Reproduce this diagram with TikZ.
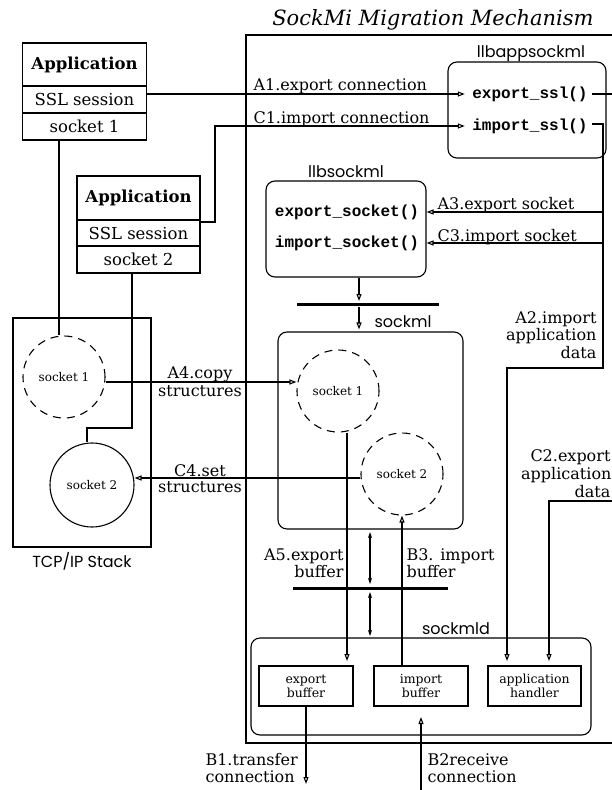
\documentclass[tikz,border=0pt]{standalone}
\usepackage{fontspec}
\setmainfont{DejaVu Serif}
\newfontfamily\codefont{Liberation Mono}
\newfontfamily\labfont{Poppins}
\usetikzlibrary{arrows.meta}
\begin{document}
\begin{tikzpicture}[x=1pt,y=-1pt,line width=1.1pt,
  lbl/.style={font=\fontsize{16}{18}\selectfont,inner sep=0pt},
  codet/.style={font=\codefont\bfseries\fontsize{16}{18}\selectfont,inner sep=0pt},
  modl/.style={font=\labfont\fontsize{16}{18}\selectfont,inner sep=0pt},
  cell/.style={draw,minimum width=124pt,inner sep=0pt,font=\fontsize{16.5}{18}\selectfont},
  headcell/.style={cell,font=\bfseries\fontsize{16.5}{18}\selectfont},
  rbox/.style={draw,rounded corners=9pt,inner sep=0pt},
  sbox/.style={draw,inner sep=0pt,minimum width=94pt,minimum height=40pt,align=center,font=\fontsize{12.5}{14}\selectfont},
  dcirc/.style={draw,circle,dash pattern=on 8pt off 6pt,minimum size=82pt,inner sep=0pt,font=\fontsize{12}{13}\selectfont},
  scirc/.style={draw,circle,minimum size=84pt,inner sep=0pt,font=\fontsize{12}{13}\selectfont},
  oarr/.style={-{Triangle[open,length=7pt,width=5pt]}},
  darr/.style={{Stealth[length=6pt,width=4pt]}-{Stealth[length=6pt,width=4pt]}},
  barline/.style={line width=3pt}
]
\useasboundingbox (0,0) rectangle (612,790);

% title and frame
\node[font=\itshape\fontsize{21}{24}\selectfont,inner sep=0pt,anchor=base] (title) at (433,25) {SockMi Migration Mechanism};
\coordinate (fr1) at (612,35);
\coordinate (fr2) at (246,35);
\coordinate (fr3) at (246,743);
\coordinate (fr4) at (612,743);
\draw (fr1) -- (fr2) -- (fr3) -- (fr4);

% applications
\node[headcell,minimum height=43pt] (app1h) at (84.5,64.5) {Application};
\node[cell,minimum height=27pt] (app1s) at (84.5,99.5) {SSL session};
\node[cell,minimum height=27pt] (app1k) at (84.5,126.5) {socket 1};
\node[headcell,minimum width=123pt,minimum height=44pt] (app2h) at (138.5,198) {Application};
\node[cell,minimum width=123pt,minimum height=26pt] (app2s) at (138.5,233) {SSL session};
\node[cell,minimum width=123pt,minimum height=27pt] (app2k) at (138.5,259.5) {socket 2};

% llbappsockml
\node[rbox,minimum width=158pt,minimum height=96pt] (llbapp) at (527,110) {};
\node[modl,anchor=base] (llbappl) at (531,57) {llbappsockml};
\node[codet] (exssl) at (530,94) {export\_ssl()};
\node[codet] (imssl) at (530,126) {import\_ssl()};

% llbsockml
\node[rbox,minimum width=160pt,minimum height=96pt] (llbs) at (346,229) {};
\node[modl,anchor=base] (llbsl) at (346,177) {llbsockml};
\node[codet] (exsock) at (347,212) {export\_socket()};
\node[codet] (imsock) at (347,243) {import\_socket()};

% sockml
\node[rbox,minimum width=185pt,minimum height=197pt] (sockml) at (370.5,430.5) {};
\node[modl,anchor=base west] (sockmll) at (374,327) {sockml};
\node[dcirc] (ms1) at (338,391) {socket 1};
\node[dcirc] (ms2) at (402,474) {socket 2};

% TCP/IP stack
\node[draw,minimum width=138pt,minimum height=229pt,inner sep=0pt] (tcp) at (82,432.5) {};
\node[modl,anchor=base] (tcpl) at (82,567) {TCP/IP Stack};
\node[dcirc] (ts1) at (64,377) {socket 1};
\node[scirc] (ts2) at (92,485) {socket 2};

% sockmld
\node[rbox,minimum width=340pt,minimum height=97pt] (smld) at (421,686.5) {};
\node[modl,anchor=base] (smldl) at (456,634) {sockmld};
\node[sbox] (ebuf) at (306,686) {export\\buffer};
\node[sbox] (ibuf) at (421,686) {import\\buffer};
\node[sbox,minimum width=93pt] (ahand) at (534.5,686) {application\\handler};

% A1 / C1
\node[lbl,anchor=base west] (a1l) at (253,90) {A1.export connection};
\node[lbl,anchor=base west] (c1l) at (253,123) {C1.import connection};
\draw[oarr] (app1s.east |- exssl) -- ([xshift=-7pt]exssl.west);
\coordinate (c1a) at (215,222);
\draw[oarr] (app2s.east |- c1a) -- (c1a) -- (c1a |- imssl) -- ([xshift=-7pt]imssl.west);

% export_ssl to right edge
\draw[shorten <=4pt] (exssl.east) -- (exssl.east -| fr1);

% import_ssl down the right side to the application handler
\coordinate (rv0) at (603,124);
\coordinate (rv1) at (603,368);
\coordinate (a2c) at (507,368);
\coordinate (a2t) at (507,661);
\draw[oarr,shorten <=4pt] (imssl.east |- rv0) -- (rv0) -- (rv1) -- (a2c) -- (a2t);

% A3 / C3
\node[lbl,anchor=base west] (a3l) at (437,209) {A3.export socket};
\node[lbl,anchor=base west] (c3l) at (437,241) {C3.import socket};
\draw[oarr] (rv0 |- exsock) -- (llbs.east |- exsock);
\draw[oarr] (rv0 |- imsock) -- (llbs.east |- imsock);

% A2 labels
\node[lbl,anchor=base east] (a2l1) at (597,323) {A2.import};
\node[lbl,anchor=base east] (a2l2) at (597,340) {application};
\node[lbl,anchor=base east] (a2l3) at (597,358) {data};

% llbsockml -> bar -> sockml
\coordinate (b1) at (359,301);
\coordinate (barL) at (297,304);
\coordinate (barR) at (439,304);
\draw[oarr] (llbs.south -| b1) -- (b1);
\draw[barline] (barL) -- (barR);
\draw[oarr] ([yshift=-3pt]barL -| b1) -- ([yshift=2pt]sockml.north -| b1);

% A4 / C4
\coordinate (a4) at (0,382);
\coordinate (c4) at (0,478);
\draw[oarr] (ts1.east |- a4) -- (ms1.west |- a4);
\draw[oarr] (ms2.west |- c4) -- (ts2.east |- c4);
\node[lbl,anchor=base] (a4l1) at (200,378) {A4.copy};
\node[lbl,anchor=base] (a4l2) at (200,396) {structures};
\node[lbl,anchor=base] (c4l1) at (200,476) {C4.set};
\node[lbl,anchor=base] (c4l2) at (200,492) {structures};

% application sockets to TCP sockets
\coordinate (s1x) at (59,0);
\draw (app1k.south -| s1x) -- (ts1.north -| s1x);
\coordinate (s2a) at (132,428);
\coordinate (s2b) at (87,428);
\draw (app2k.south -| s2a) -- (s2a) -- (s2b) -- (ts2.north -| s2b);

% sockml <-> sockmld
\coordinate (exT) at (347,661);
\draw[oarr] (ms1.south -| exT) -- (exT);
\draw[oarr] (ibuf.north -| ms2.south) -- (ms2.south);
\coordinate (d1a) at (370,532);
\coordinate (d1b) at (370,584);
\coordinate (d2a) at (370,592);
\coordinate (d2b) at (370,636);
\draw[darr] (d1a) -- (d1b);
\draw[darr] (d2a) -- (d2b);
\coordinate (bar2L) at (293,588);
\coordinate (bar2R) at (448,588);
\draw[barline] (bar2L) -- (bar2R);
\node[lbl,anchor=base east] (a5l1) at (344,560) {A5.export};
\node[lbl,anchor=base east] (a5l2) at (344,577) {buffer};
\node[lbl,anchor=base west] (b3l1) at (406,560) {B3. import};
\node[lbl,anchor=base west] (b3l2) at (406,577) {buffer};

% C2
\coordinate (c2a) at (612,501);
\coordinate (c2b) at (549,501);
\coordinate (c2t) at (549,661);
\draw[oarr] (c2a) -- (c2b) -- (c2t);
\node[lbl,anchor=base east] (c2l1) at (611,461) {C2.export};
\node[lbl,anchor=base east] (c2l2) at (612,479) {application};
\node[lbl,anchor=base east] (c2l3) at (611,497) {data};

% B1 / B2
\coordinate (b1t) at (306,784);
\draw[oarr] (ebuf.south) -- (b1t);
\coordinate (b2s) at (421,790);
\coordinate (b2t) at (421,717);
\draw[oarr] (b2s) -- (b2t);
\node[lbl,anchor=base west] (b1l1) at (205,765) {B1.transfer};
\node[lbl,anchor=base west] (b1l2) at (205,782) {connection};
\node[lbl,anchor=base west] (b2l1) at (427,765) {B2receive};
\node[lbl,anchor=base west] (b2l2) at (427,782) {connection};
\end{tikzpicture}
\end{document}
